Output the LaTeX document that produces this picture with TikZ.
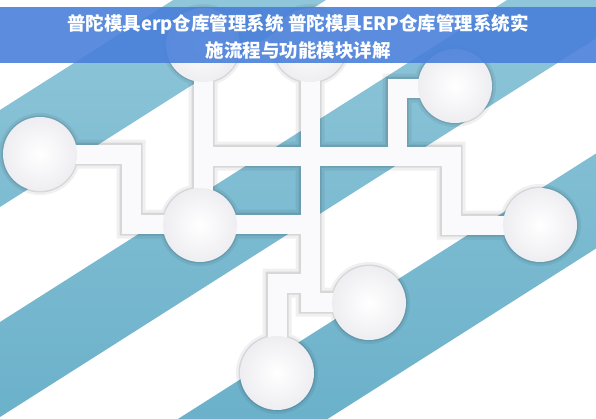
\documentclass[tikz,border=0pt]{standalone}
\usepackage{fontspec}
\newfontfamily\cjk{Noto Sans CJK SC}
\definecolor{tealA}{HTML}{8FC6D9}
\definecolor{tealB}{HTML}{6BB1CA}
\definecolor{bannerblue}{HTML}{4A80DA}
\definecolor{barwhite}{HTML}{FAFAFC}
\definecolor{rim}{HTML}{EEEEF2}
\newcommand\netbars{%
  \draw[barline] (pL) -- (k1) -- (k2) -- (k3);
  \draw[barline] (pT1) -- (pT1 |- pM);
  \draw[barline] (j1) -- (k4) -- (k5) -- (k5 -| pR);
  \draw[barline] (pT2) -- (k6) -- (k6 -| pB1);
  \draw[barline] (k7 -| pTR) -- (k7) -- (j2);
  \draw[barline] (j3) -- (k8) -- (pB2);
}
\newcommand\netdots[1]{%
  \foreach \p in {pL,pT1,pT2,pTR,pM,pR,pB1,pB2} {\fill (\p) circle (#1);}
}
\begin{document}
\begin{tikzpicture}[x=1pt,y=-1pt,
  barline/.style={line width=19pt, draw=barwhite, line join=miter},
  dot/.style={circle, minimum size=74pt, inner sep=0pt, inner color=white, outer color=rim},
  titletext/.style={text=white, font=\cjk\bfseries\fontsize{18.5}{22}\selectfont, inner sep=0pt}]
\useasboundingbox (0,0) rectangle (596,418);
\fill[white] (0,0) rectangle (596,418);
% diagonal stripes
\begin{scope}
  \clip (0,110) -- (596,-268.5) -- (596,-171.5) -- (0,207) -- cycle
        (0,322) -- (596,-56.5) -- (596,38.5) -- (0,417) -- cycle
        (0,532) -- (596,153.5) -- (596,248.5) -- (0,627) -- cycle;
  \shade[top color=tealA, bottom color=tealB] (0,0) rectangle (596,418);
\end{scope}
% centres and corners
\coordinate (pL) at (40,154);
\coordinate (pT1) at (203,45);
\coordinate (pT2) at (310,45);
\coordinate (pTR) at (455,86);
\coordinate (pM) at (200,225);
\coordinate (pR) at (540,225);
\coordinate (pB1) at (369,303);
\coordinate (pB2) at (277,373);
\coordinate (k1) at (131,154);
\coordinate (k2) at (131,224);
\coordinate (k3) at (311,224);
\coordinate (j1) at (203,156);
\coordinate (k4) at (451,156);
\coordinate (k5) at (451,225);
\coordinate (k6) at (310,302);
\coordinate (k7) at (397,88);
\coordinate (j2) at (397,156);
\coordinate (j3) at (310,283);
\coordinate (k8) at (277,283);
% soft shadows
\begin{scope}[shift={(3,5)}, transparency group, opacity=0.06,
  barline/.style={line width=29pt, draw=black, line join=miter}]
  \netbars
  \netdots{41}
\end{scope}
\begin{scope}[shift={(2,3)}, transparency group, opacity=0.10,
  barline/.style={line width=23pt, draw=black, line join=miter}]
  \netbars
  \netdots{38.5}
\end{scope}
% bars
\netbars
% circles
\foreach \p/\n in {pL/cL,pT1/cT1,pT2/cT2,pTR/cTR,pM/cM,pR/cR,pB1/cB1,pB2/cB2}
  {\node[dot] (\n) at (\p) {};}
% title banner
\node[fill=bannerblue, fill opacity=0.9, minimum width=596pt, minimum height=56pt, inner sep=0pt] (banner) at (298,35) {};
\node[titletext] (t1) at (298,24) {普陀模具erp仓库管理系统 普陀模具ERP仓库管理系统实};
\node[titletext] (t2) at (298,50) {施流程与功能模块详解};
\end{tikzpicture}
\end{document}
